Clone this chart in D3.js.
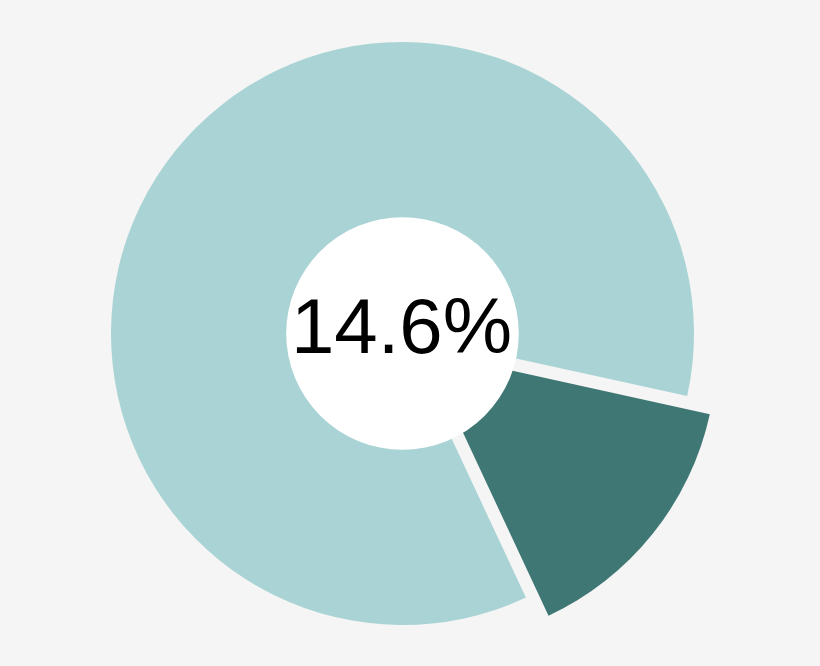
<!DOCTYPE html>
<html>
<head>
<meta charset="utf-8">
<script src="https://cdn.jsdelivr.net/npm/d3@7"></script>
<style>
  html, body { margin: 0; padding: 0; background: #f5f5f5; }
  svg { display: block; }
</style>
</head>
<body>
<div id="chart"></div>
<script>
// share of the highlighted part vs the rest
const labels = ['highlight', 'rest'];
const values = [14.6, 85.4];
const colors = ['#3f7775', '#a9d3d4'];
const centerLabel = '14.6%';

const width = 820;
const height = 666;
const cx = 402.5;
const cy = 333.5;
const outerR = 291.5;
const holeR = 116.3;
const explode = 29;
const startDeg = 102.4;

const svg = d3.select('#chart')
  .append('svg')
  .attr('width', width)
  .attr('height', height);

svg.append('rect')
  .attr('width', width)
  .attr('height', height)
  .attr('fill', '#f5f5f5');

const pie = d3.pie()
  .sort(null)
  .value(d => d.value)
  .startAngle(startDeg * Math.PI / 180)
  .endAngle(startDeg * Math.PI / 180 + 2 * Math.PI);

const arc = d3.arc()
  .innerRadius(0)
  .outerRadius(outerR);

const data = labels.map((l, i) => ({ label: l, value: values[i], color: colors[i] }));
const arcs = pie(data);

const g = svg.append('g')
  .attr('transform', `translate(${cx}, ${cy})`);

g.selectAll('path')
  .data(arcs)
  .enter()
  .append('path')
  .attr('d', arc)
  .attr('fill', d => d.data.color)
  .attr('transform', (d, i) => {
    if (i !== 0) return null;
    const mid = (d.startAngle + d.endAngle) / 2;
    return `translate(${explode * Math.sin(mid)}, ${-explode * Math.cos(mid)})`;
  });

g.append('circle')
  .attr('r', holeR)
  .attr('fill', '#ffffff');

g.append('text')
  .attr('x', -1)
  .attr('y', 19.3)
  .attr('text-anchor', 'middle')
  .style('font-family', 'Liberation Sans, Arial, sans-serif')
  .style('font-size', '78px')
  .style('fill', '#000')
  .text(centerLabel);
</script>
</body>
</html>
